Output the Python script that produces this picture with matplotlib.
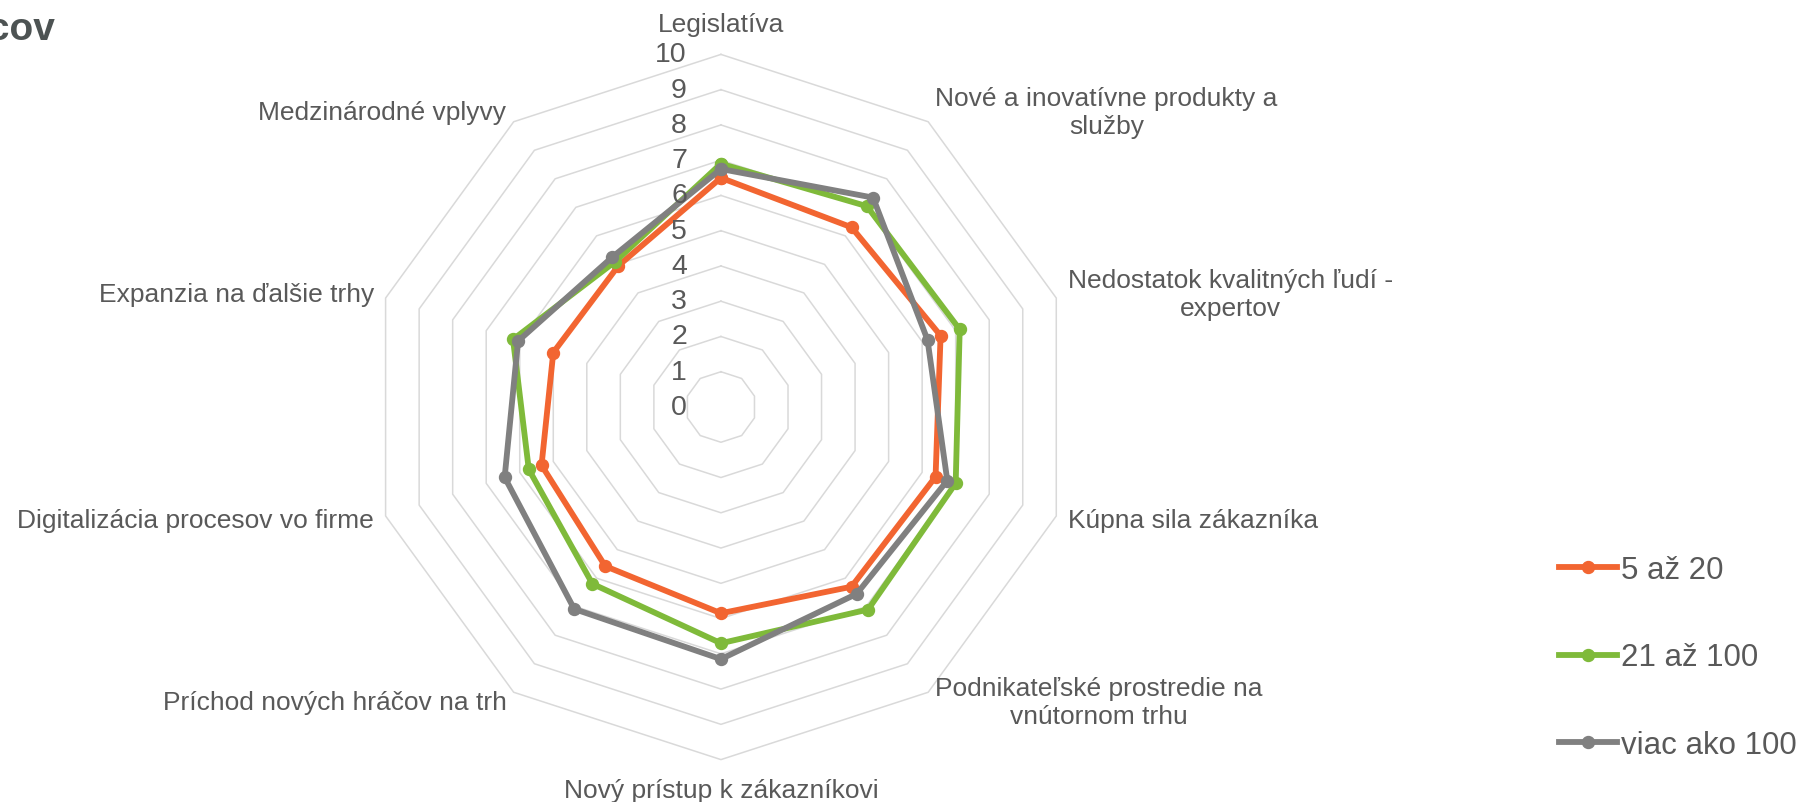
import numpy as np
import matplotlib.pyplot as plt
from matplotlib import transforms

# ------------------------------
# data
categories = ['Legislatíva', 'Nové a inovatívne produkty a\nslužby',
              'Nedostatok kvalitných ľudí -\nexpertov', 'Kúpna sila zákazníka',
              'Podnikateľské prostredie na\nvnútornom trhu', 'Nový prístup k zákazníkovi',
              'Príchod nových hráčov na trh', 'Digitalizácia procesov vo firme',
              'Expanzia na ďalšie trhy', 'Medzinárodné vplyvy']
series_names = ['5 až 20', '21 až 100', 'viac ako 100']
vals_5_20 = [6.5, 6.3, 6.55, 6.4, 6.3, 5.85, 5.58, 5.35, 5.0, 4.95]
vals_21_100 = [6.9, 7.04, 7.12, 7.0, 7.1, 6.7, 6.2, 5.73, 6.2, 5.1]
vals_100 = [6.75, 7.34, 6.16, 6.75, 6.55, 7.15, 7.08, 6.45, 6.05, 5.25]
levels = list(range(0, 11))
colors = ['#F26531', '#7FBA3A', '#808080']
txt = '#595959'
# ------------------------------

plt.rcParams['font.family'] = ['Liberation Sans', 'DejaVu Sans']

fig = plt.figure(figsize=(18.01, 8.03), dpi=100)
ax = fig.add_axes([0.2045, 0.0528, 0.3916, 0.8782], projection='polar')
ax.set_theta_zero_location('N')
ax.set_theta_direction(-1)
ax.set_ylim(0, 10)
ax.grid(False)
ax.spines['polar'].set_visible(False)
ax.set_xticks([])
ax.set_yticks([])

n = len(categories)
theta = np.linspace(0, 2 * np.pi, n, endpoint=False)
theta_c = np.append(theta, theta[0])

# polygon grid
for lv in levels[1:]:
    ax.plot(theta_c, [lv] * (n + 1), color='#D9D9D9', lw=1.1, zorder=1, clip_on=False)

# series
for name, vals, c in zip(series_names, [vals_5_20, vals_21_100, vals_100], colors):
    ax.plot(theta_c, vals + vals[:1], color=c, lw=4.2, marker='o', ms=8.6,
            label=name, zorder=3, clip_on=False)

# radial value labels
off = transforms.offset_copy(ax.transData, fig=fig, x=-34, y=0, units='dots')
for lv in levels:
    ax.text(0, lv, str(lv), transform=off, ha='right', va='center',
            fontsize=20.5, color=txt)

# category labels
for t, lab in zip(theta, categories):
    deg = np.degrees(t)
    if deg == 0 or deg == 180:
        ax.text(t, 10.85, lab, ha='center', va='center', fontsize=19, color=txt)
    elif deg < 180:
        ax.text(t, 10.35, lab, ha='left', va='center', multialignment='center',
                fontsize=19, color=txt)
    else:
        ax.text(t, 10.35, lab, ha='right', va='center', multialignment='center',
                fontsize=19, color=txt)

# cut-off title
fig.text(0.031, 0.963, 'zamestnancov', ha='right', va='center', fontsize=28,
         fontweight='bold', color='#4D5353')

leg = fig.legend(loc='center left', bbox_to_anchor=(0.8656, 0.18), frameon=False,
                 fontsize=22.5, labelspacing=1.85, handlelength=1.85,
                 handletextpad=0.15, borderpad=0, borderaxespad=0)
for t in leg.get_texts():
    t.set_color(txt)

fig.savefig('out.png', dpi=100)
